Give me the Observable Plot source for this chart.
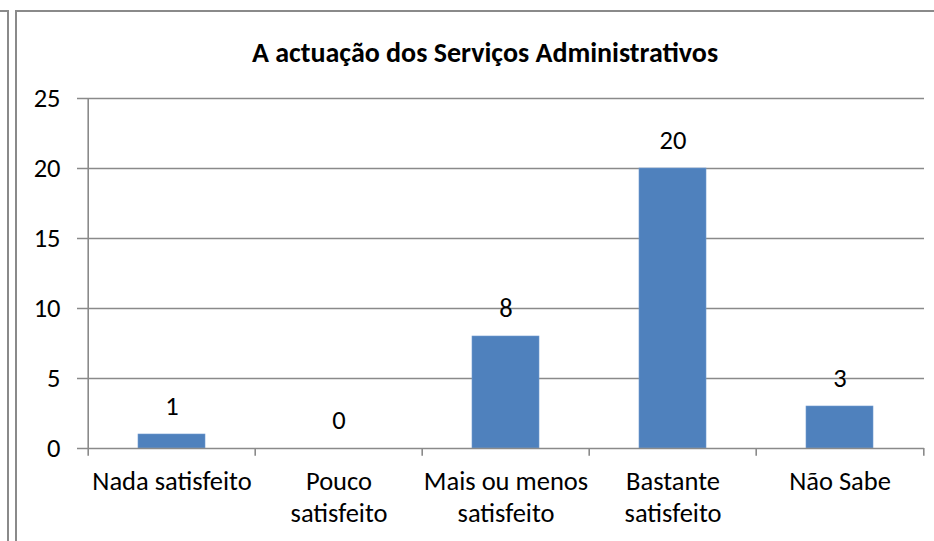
<!DOCTYPE html>
<html>
<head>
<meta charset="utf-8">
<script src="https://cdn.jsdelivr.net/npm/d3@7"></script>
<script src="https://cdn.jsdelivr.net/npm/@observablehq/plot@0.6"></script>
<style>
  html, body { margin: 0; padding: 0; background: #fff; overflow: hidden; }
  #wrap { position: relative; width: 934px; height: 541px; overflow: hidden; background: #fff; }
  .b1 { position: absolute; left: -4px; top: 10px; width: 11px; height: 700px; border-top: 2px solid #8a8a8a; border-right: 2px solid #8a8a8a; }
  .b2 { position: absolute; left: 15px; top: 10px; width: 1200px; height: 700px; border-top: 2px solid #8a8a8a; border-left: 2px solid #8a8a8a; }
  #chart { position: absolute; left: 0; top: 0; }
  svg { font-family: Carlito, Calibri, "Open Sans", sans-serif; }
</style>
</head>
<body>
<div id="wrap">
  <div class="b1"></div>
  <div class="b2"></div>
  <div id="chart"></div>
</div>
<script>
const title = "A actuação dos Serviços Administrativos";
const categories = ["Nada satisfeito", "Pouco\nsatisfeito", "Mais ou menos\nsatisfeito", "Bastante\nsatisfeito", "Não Sabe"];
const values = [1, 0, 8, 20, 3];
const yTicks = [0, 5, 10, 15, 20, 25];

const data = categories.map((c, i) => ({category: c, value: values[i]}));

const W = 934, H = 541;
const mL = 86, mR = 10, mT = 98, mB = 93;
const step = (W - mL - mR) / categories.length;
const boundaries = categories.map((c, i) => ({category: c, dx: -step / 2, top: i === 0 ? 25 : 0}))
  .concat([{category: categories[categories.length - 1], dx: step / 2, top: 0}]);

const fontSize = 26.5;
const titleSize = 28;
const gray = "#8a8a8a";

const chart = Plot.plot({
  width: W,
  height: H,
  marginLeft: mL,
  marginRight: mR,
  marginTop: mT,
  marginBottom: mB,
  style: {fontSize: fontSize + "px", color: "black", background: "transparent", overflow: "visible"},
  x: {domain: categories, paddingInner: 0.6, paddingOuter: 0.3, axis: null},
  y: {domain: [0, 25], axis: null},
  marks: [
    Plot.ruleY(yTicks.filter(t => t > 0), {stroke: gray, strokeWidth: 1.3}),
    Plot.barY(data, {x: "category", y: "value", fill: "#4f81bd", stroke: "#6f9ad0", strokeWidth: 0.6}),
    Plot.ruleY([0], {stroke: gray, strokeWidth: 1.6}),
    Plot.axisY({ticks: yTicks, tickSize: 9, tickPadding: 17, stroke: gray, fill: "black", strokeWidth: 1.5, fontSize: fontSize, label: null}),
    ...boundaries.map(b => Plot.ruleX([b], {x: "category", dx: b.dx, y1: -0.55, y2: b.top, stroke: gray, strokeWidth: 1.6})),
    Plot.text(data, {x: "category", y: 0, text: "category", lineAnchor: "top", dy: 19, fontSize: fontSize, lineHeight: 1.2, fill: "black"}),
    Plot.text(data, {x: "category", y: "value", text: d => String(d.value), dy: -28, fontSize: fontSize, fill: "black"}),
    Plot.text([title], {frameAnchor: "top", dx: -20.5, dy: -56, fontSize: titleSize, fontWeight: "bold", fill: "black"})
  ]
});
document.getElementById("chart").appendChild(chart);
</script>
</body>
</html>
